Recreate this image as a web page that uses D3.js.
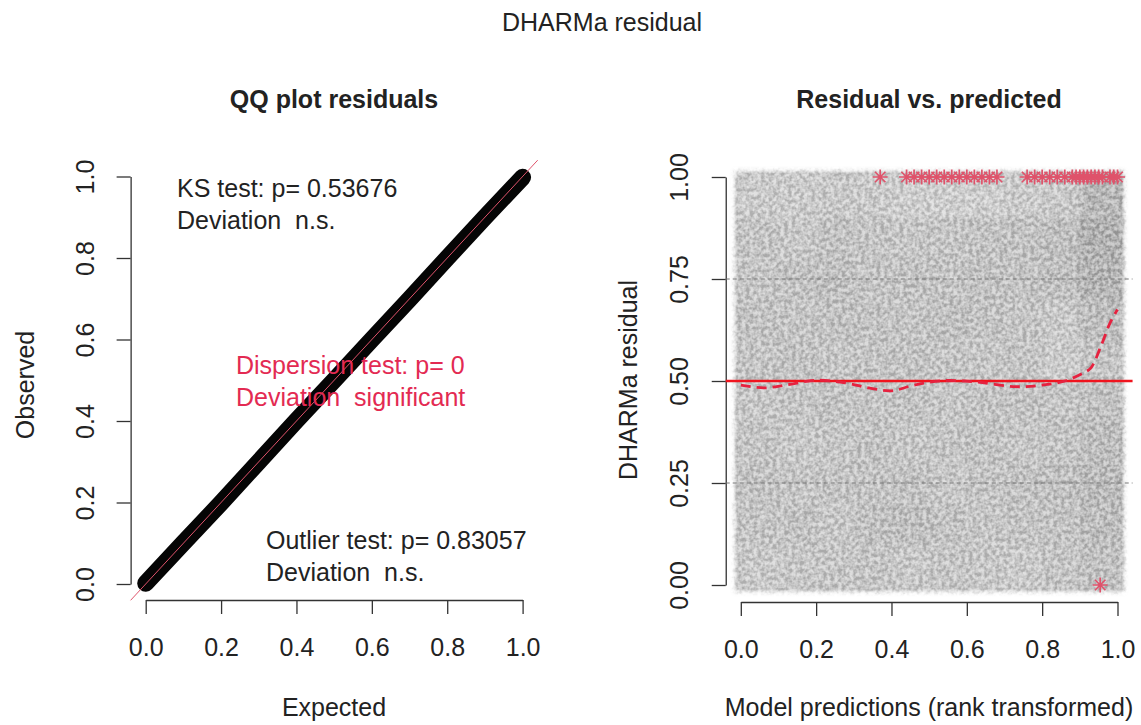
<html>
<head>
<script src="https://d3js.org/d3.v7.min.js"></script>
<style>
  body { margin: 0; background: #fff; }
  text { font-family: "Liberation Sans", Arial, sans-serif; fill: #222; }
</style>
</head>
<body>
<script>
// QQ panel: quantiles along the band of points
const qqExpected = [0, 0.1, 0.2, 0.3, 0.4, 0.5, 0.6, 0.7, 0.8, 0.9, 1.0];
const qqObserved = [0.002, 0.101, 0.199, 0.3, 0.401, 0.5, 0.6, 0.699, 0.8, 0.9, 0.998];
const leftTicks = [0, 0.2, 0.4, 0.6, 0.8, 1.0];
const leftTickLabels = ["0.0", "0.2", "0.4", "0.6", "0.8", "1.0"];

// residual vs predicted panel
const rightXTicks = [0, 0.2, 0.4, 0.6, 0.8, 1.0];
const rightXTickLabels = ["0.0", "0.2", "0.4", "0.6", "0.8", "1.0"];
const rightYTicks = [0, 0.25, 0.5, 0.75, 1.0];
const rightYTickLabels = ["0.00", "0.25", "0.50", "0.75", "1.00"];
const quantileRefs = [0.25, 0.5, 0.75];
// point cloud density (grey level), bins of 0.1, rows listed from top (0.9-1.0) to bottom
const cloudBins = [0, 0.1, 0.2, 0.3, 0.4, 0.5, 0.6, 0.7, 0.8, 0.9];
const cloudShade = [
  [202, 203, 201, 202, 205, 206, 205, 203, 201, 184],
  [197, 200, 195, 197, 198, 197, 195, 194, 191, 178],
  [198, 195, 193, 197, 195, 196, 194, 195, 192, 181],
  [195, 197, 194, 195, 197, 193, 195, 197, 201, 190],
  [197, 195, 198, 196, 195, 197, 198, 196, 203, 197],
  [199, 197, 195, 197, 195, 198, 196, 195, 197, 193],
  [197, 200, 198, 195, 199, 197, 195, 198, 196, 190],
  [195, 198, 197, 196, 195, 199, 197, 195, 193, 188],
  [197, 195, 199, 193, 192, 195, 198, 196, 195, 190],
  [201, 199, 198, 197, 200, 198, 199, 201, 197, 193]
];
// median quantile regression (dashed)
const medianX = [0, 0.06, 0.12, 0.2, 0.28, 0.34, 0.4, 0.46, 0.54, 0.63, 0.73, 0.8, 0.86, 0.91, 0.93, 0.955, 0.98, 1.0];
const medianY = [0.49, 0.483, 0.49, 0.502, 0.495, 0.483, 0.476, 0.49, 0.501, 0.497, 0.486, 0.49, 0.5, 0.52, 0.533, 0.583, 0.642, 0.675];
// outliers (asterisks)
const outlierX = [0.37, 0.44, 0.46, 0.48, 0.5, 0.52, 0.54, 0.56, 0.58, 0.6, 0.62, 0.64, 0.66, 0.68,
  0.76, 0.78, 0.8, 0.82, 0.84, 0.86, 0.88, 0.89, 0.9, 0.91, 0.92, 0.93, 0.94, 0.95, 0.96, 0.98, 0.99, 1.0, 0.954];
const outlierY = [1, 1, 1, 1, 1, 1, 1, 1, 1, 1, 1, 1, 1, 1,
  1, 1, 1, 1, 1, 1, 1, 1, 1, 1, 1, 1, 1, 1, 1, 1, 1, 1, 0];

const W = 1141, H = 725;
const FS = "25px";
const svg = d3.select("body").append("svg").attr("width", W).attr("height", H);
svg.append("rect").attr("width", W).attr("height", H).attr("fill", "#fff");

const defs = svg.append("defs");
const f = defs.append("filter").attr("id", "cloud").attr("x", "-5%").attr("y", "-5%").attr("width", "110%").attr("height", "110%");
f.append("feGaussianBlur").attr("in", "SourceGraphic").attr("stdDeviation", 2.5).attr("result", "blur");
f.append("feTurbulence").attr("type", "fractalNoise").attr("baseFrequency", 0.26).attr("numOctaves", 2).attr("seed", 4).attr("result", "noise");
f.append("feColorMatrix").attr("in", "noise").attr("type", "matrix")
  .attr("values", "2.5 0 0 0 -0.75  2.5 0 0 0 -0.75  2.5 0 0 0 -0.75  0 0 0 0 1").attr("result", "grain");
f.append("feComposite").attr("in", "blur").attr("in2", "grain").attr("operator", "arithmetic")
  .attr("k1", 0).attr("k2", 1).attr("k3", 0.32).attr("k4", -0.16).attr("result", "mix");
f.append("feComposite").attr("in", "mix").attr("in2", "blur").attr("operator", "in");

svg.append("text").attr("x", 602).attr("y", 31).attr("text-anchor", "middle")
  .style("font-size", FS).text("DHARMa residual");

// ---------- left: QQ plot ----------
const xL = d3.scaleLinear().domain([0, 1]).range([145.7, 522.6]);
const yL = d3.scaleLinear().domain([0, 1]).range([584, 176.5]);
const left = svg.append("g");

left.append("text").attr("x", 334).attr("y", 108).attr("text-anchor", "middle")
  .style("font-size", FS).style("font-weight", "bold").text("QQ plot residuals");

left.append("g").attr("transform", "translate(0,600)")
  .call(d3.axisBottom(xL).tickValues(leftTicks).tickSize(14).tickSizeOuter(0).tickFormat((d, i) => leftTickLabels[i]))
  .call(g => g.selectAll("text").attr("y", 56).attr("dy", 0).style("font-size", FS));
left.append("g").attr("transform", `translate(${xL(-0.04)},0)`)
  .call(d3.axisLeft(yL).tickValues(leftTicks).tickSize(14).tickSizeOuter(0).tickFormat((d, i) => leftTickLabels[i]))
  .call(g => g.selectAll("text").attr("x", null).attr("dy", 0).attr("text-anchor", "middle")
    .attr("transform", "translate(-37,0) rotate(-90)").style("font-size", FS));
left.selectAll(".domain, .tick line").attr("stroke", "#333").attr("stroke-width", 1.3);
left.selectAll(".tick text").attr("fill", "#222");

left.append("text").attr("transform", "translate(34,385) rotate(-90)").attr("text-anchor", "middle")
  .style("font-size", FS).text("Observed");
left.append("text").attr("x", 334).attr("y", 716).attr("text-anchor", "middle")
  .style("font-size", FS).text("Expected");

const qqLine = d3.line().x((d, i) => xL(qqExpected[i])).y(d => yL(d));
left.append("path").datum(qqObserved).attr("d", qqLine)
  .attr("fill", "none").attr("stroke", "#050505").attr("stroke-width", 17).attr("stroke-linecap", "round");
left.append("line").attr("x1", xL(-0.04)).attr("y1", yL(-0.04)).attr("x2", xL(1.04)).attr("y2", yL(1.04))
  .attr("stroke", "#df536b").attr("stroke-width", 1);

const note = (g, x, y, lines, col) => {
  lines.forEach((t, i) => g.append("text").attr("x", x).attr("y", y + i * 32)
    .style("font-size", FS).style("white-space", "pre").style("fill", col).text(t));
};
note(left, 177, 197, ["KS test: p= 0.53676", "Deviation  n.s."], "#222");
note(left, 236, 374, ["Dispersion test: p= 0", "Deviation  significant"], "#e32a52");
note(left, 266, 549, ["Outlier test: p= 0.83057", "Deviation  n.s."], "#222");

// ---------- right: residual vs predicted ----------
const xR = d3.scaleLinear().domain([0, 1]).range([740.8, 1117.5]);
const yR = d3.scaleLinear().domain([0, 1]).range([585, 177]);
const right = svg.append("g");

right.append("text").attr("x", 929).attr("y", 108).attr("text-anchor", "middle")
  .style("font-size", FS).style("font-weight", "bold").text("Residual vs. predicted");

// point cloud as density cells
const cells = [];
cloudShade.forEach((row, r) => row.forEach((v, c) => cells.push({ x0: cloudBins[c], y0: 0.9 - cloudBins[r], v })));
const pad = 6;
right.append("g").attr("filter", "url(#cloud)")
  .selectAll("rect").data(cells).join("rect")
  .attr("x", d => xR(d.x0) - (d.x0 === 0 ? pad : 0))
  .attr("y", d => yR(d.y0 + 0.1) - (d.y0 >= 0.9 ? pad : 0))
  .attr("width", d => xR(d.x0 + 0.1) - xR(d.x0) + (d.x0 === 0 ? pad : 0) + (d.x0 >= 0.9 ? pad : 0) + 0.6)
  .attr("height", d => yR(d.y0) - yR(d.y0 + 0.1) + (d.y0 >= 0.9 ? pad : 0) + (d.y0 === 0 ? pad : 0) + 0.6)
  .attr("fill", d => d3.rgb(d.v, d.v, d.v));

right.append("g").attr("transform", "translate(0,602)")
  .call(d3.axisBottom(xR).tickValues(rightXTicks).tickSize(14).tickSizeOuter(0).tickFormat((d, i) => rightXTickLabels[i]))
  .call(g => g.selectAll("text").attr("y", 56).attr("dy", 0).style("font-size", FS));
right.append("g").attr("transform", `translate(${xR(-0.04)},0)`)
  .call(d3.axisLeft(yR).tickValues(rightYTicks).tickSize(14).tickSizeOuter(0).tickFormat((d, i) => rightYTickLabels[i]))
  .call(g => g.selectAll("text").attr("x", null).attr("dy", 0).attr("text-anchor", "middle")
    .attr("transform", "translate(-38,0) rotate(-90)").style("font-size", FS));
right.selectAll(".domain, .tick line").attr("stroke", "#333").attr("stroke-width", 1.3);
right.selectAll(".tick text").attr("fill", "#222");

right.append("text").attr("transform", "translate(637,380) rotate(-90)").attr("text-anchor", "middle")
  .style("font-size", FS).text("DHARMa residual");
right.append("text").attr("x", 929).attr("y", 716).attr("text-anchor", "middle")
  .style("font-size", FS).text("Model predictions (rank transformed)");

right.selectAll(".qref").data(quantileRefs).join("line").attr("class", "qref")
  .attr("x1", xR(-0.04)).attr("x2", xR(1.04))
  .attr("y1", d => yR(d)).attr("y2", d => yR(d))
  .attr("stroke", d => d === 0.5 ? "#f0141e" : "#777")
  .attr("stroke-width", d => d === 0.5 ? 2.5 : 1)
  .attr("stroke-dasharray", d => d === 0.5 ? null : "4,3");

const medLine = d3.line().curve(d3.curveCatmullRom).x((d, i) => xR(medianX[i])).y(d => yR(d));
right.append("path").datum(medianY).attr("d", medLine)
  .attr("fill", "none").attr("stroke", "#e6223f").attr("stroke-width", 2.8).attr("stroke-dasharray", "10,6");

const star = 7.5;
right.selectAll(".out").data(outlierX).join("path").attr("class", "out")
  .attr("transform", (d, i) => `translate(${xR(d)},${yR(outlierY[i])})`)
  .attr("d", `M${-star},0H${star}M0,${-star}V${star}M${-star * 0.7},${-star * 0.7}L${star * 0.7},${star * 0.7}M${-star * 0.7},${star * 0.7}L${star * 0.7},${-star * 0.7}`)
  .attr("fill", "none").attr("stroke", "#df536b").attr("stroke-width", 1.7);
</script>
</body>
</html>
